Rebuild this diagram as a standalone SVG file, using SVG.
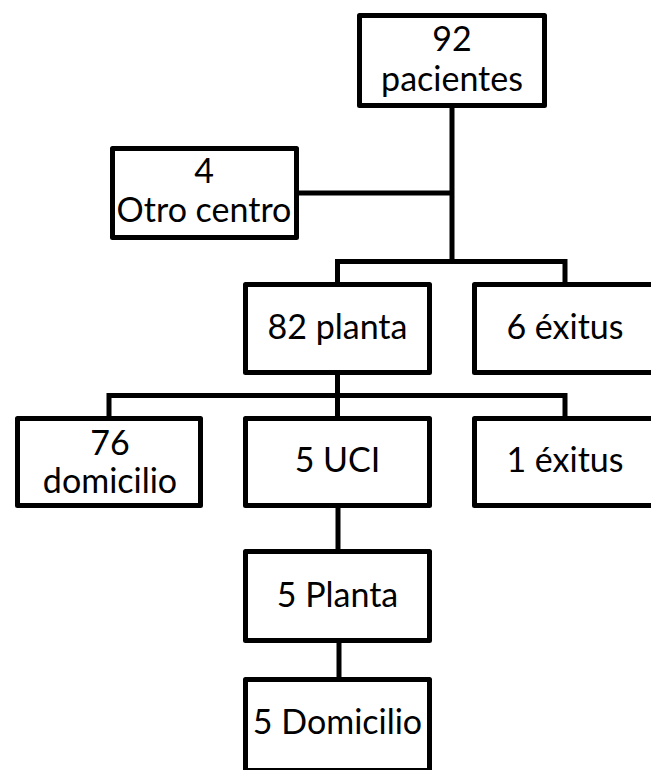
<svg xmlns="http://www.w3.org/2000/svg" width="651" height="770" viewBox="0 0 651 770">
  <style>
    .box { fill: #ffffff; stroke: #000000; stroke-width: 5; stroke-linejoin: round; }
    .wire { fill: none; stroke: #000000; stroke-width: 5; stroke-linejoin: miter; }
    .lbl { font-family: Lato, "Open Sans", "Liberation Sans", sans-serif; font-size: 34px; fill: #000000; text-anchor: middle; }
  </style>
  <rect width="651" height="770" fill="#ffffff"/>

  <!-- connectors -->
  <g id="connectors">
    <path class="wire" d="M452 105.5 V261.5"/>
    <path class="wire" d="M296.5 193 H452"/>
    <path class="wire" d="M337.5 284.5 V261.5 H565 V284.5"/>
    <path class="wire" d="M337.5 372.5 V418.5"/>
    <path class="wire" d="M109 418.5 V395.5 H565 V418.5"/>
    <path class="wire" d="M338 505.5 V551.5"/>
    <path class="wire" d="M339 640.5 V679.5"/>
  </g>

  <!-- nodes -->
  <g id="n-pacientes">
    <rect class="box" x="359.5" y="15.5" width="185" height="90"/>
    <text class="lbl" x="452" y="51">92</text>
    <text class="lbl" x="452" y="91">pacientes</text>
  </g>
  <g id="n-otro-centro">
    <rect class="box" x="112.5" y="148.5" width="184" height="89"/>
    <text class="lbl" x="204" y="183">4</text>
    <text class="lbl" x="204" y="222">Otro centro</text>
  </g>
  <g id="n-82-planta">
    <rect class="box" x="245.5" y="284.5" width="184" height="88"/>
    <text class="lbl" x="337.5" y="339">82 planta</text>
  </g>
  <g id="n-6-exitus">
    <rect class="box" x="474.5" y="284.5" width="184" height="88"/>
    <text class="lbl" x="565" y="339">6 éxitus</text>
  </g>
  <g id="n-76-domicilio">
    <rect class="box" x="17.5" y="418.5" width="183" height="87"/>
    <text class="lbl" x="110" y="455">76</text>
    <text class="lbl" x="110" y="493">domicilio</text>
  </g>
  <g id="n-5-uci">
    <rect class="box" x="245.5" y="418.5" width="184" height="87"/>
    <text class="lbl" x="337.5" y="472">5 UCI</text>
  </g>
  <g id="n-1-exitus">
    <rect class="box" x="474.5" y="418.5" width="184" height="87"/>
    <text class="lbl" x="565" y="472">1 éxitus</text>
  </g>
  <g id="n-5-planta">
    <rect class="box" x="245.5" y="551.5" width="184" height="89"/>
    <text class="lbl" x="337.5" y="607">5 Planta</text>
  </g>
  <g id="n-5-domicilio">
    <rect class="box" x="245.5" y="679.5" width="184" height="91"/>
    <text class="lbl" x="337.5" y="734">5 Domicilio</text>
  </g>
</svg>
